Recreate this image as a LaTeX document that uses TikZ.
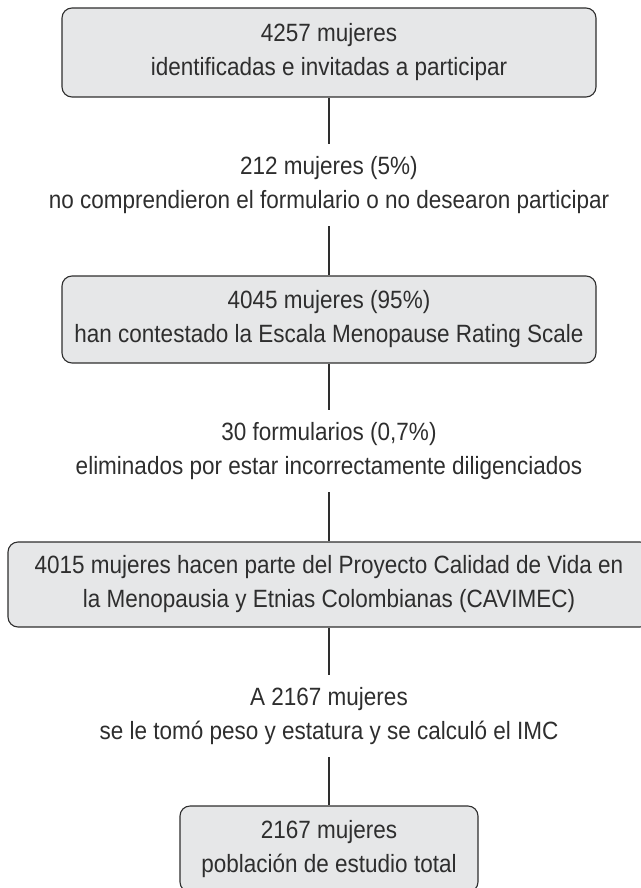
\documentclass[tikz,border=0pt]{standalone}
\usepackage{fontspec}
\setmainfont{Liberation Sans}[FakeStretch=0.9]
\definecolor{boxfill}{HTML}{E6E7E8}
\definecolor{ink}{HTML}{2E2E2E}
\begin{document}
\begin{tikzpicture}[x=1pt,y=-1pt,
  every node/.style={font=\fontsize{25}{34}\selectfont, text=ink, align=center, inner sep=0pt},
  boxnode/.style={draw=ink, fill=boxfill, rounded corners=10pt, line width=1.1pt},
  note/.style={minimum height=82pt},
  link/.style={draw=ink, line width=1.1pt}]
\useasboundingbox (0,0) rectangle (640,888);
\node[boxnode, minimum width=534pt, minimum height=89pt] (b1) at (329,52.5)
  {4257 mujeres\\identificadas e invitadas a participar};
\node[note] (t1) at (329,185)
  {212 mujeres (5\%)\\no comprendieron el formulario o no desearon participar};
\node[boxnode, minimum width=534pt, minimum height=87pt] (b2) at (329,319.5)
  {4045 mujeres (95\%)\\han contestado la Escala Menopause Rating Scale};
\node[note] (t2) at (329,451)
  {30 formularios (0,7\%)\\eliminados por estar incorrectamente diligenciados};
\node[boxnode, minimum width=642pt, minimum height=85pt] (b3) at (329,584.5)
  {4015 mujeres hacen parte del Proyecto Calidad de Vida en\\la Menopausia y Etnias Colombianas (CAVIMEC)};
\node[note] (t3) at (329,716)
  {A 2167 mujeres\\se le tomó peso y estatura y se calculó el IMC};
\node[boxnode, minimum width=298pt, minimum height=86pt] (b4) at (329,849)
  {2167 mujeres\\población de estudio total};
\draw[link] (b1.south) -- (t1.north);
\draw[link] (t1.south) -- (b2.north);
\draw[link] (b2.south) -- (t2.north);
\draw[link] (t2.south) -- (b3.north);
\draw[link] (t3.south) -- (b4.north);
\draw[link] (b3.south) -- (t3.north);
\end{tikzpicture}
\end{document}
